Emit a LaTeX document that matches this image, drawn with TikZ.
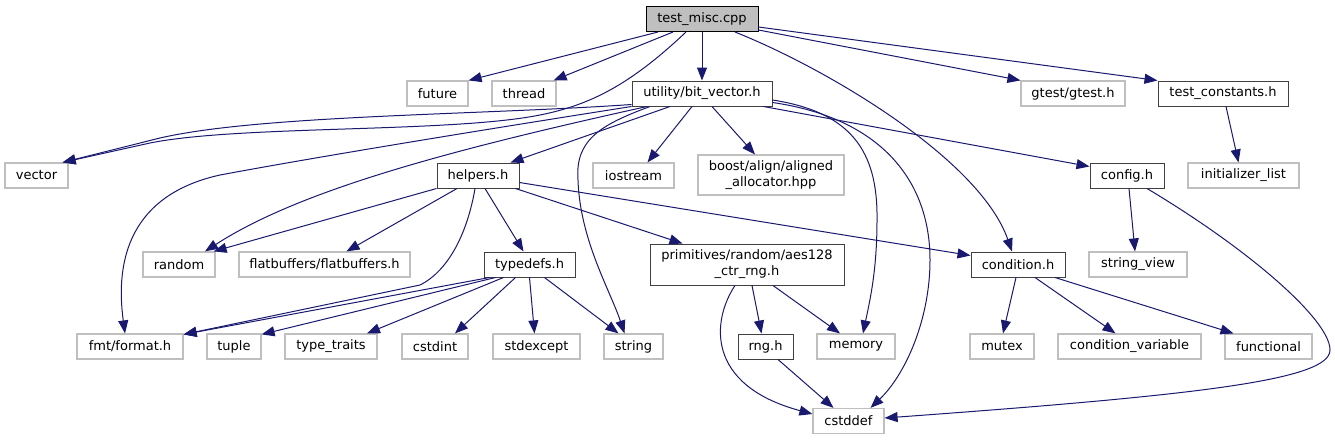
\documentclass[tikz,border=0pt]{standalone}
\usepackage{fontspec}
\setmainfont{DejaVu Sans}
\usepackage{tikz}
\usetikzlibrary{arrows.meta}

\definecolor{edgeblue}{HTML}{191970}
\definecolor{sysgray}{HTML}{BFBFBF}
\definecolor{docgray}{HTML}{404040}

\begin{document}
\begin{tikzpicture}[x=1pt, y=-1pt,
  file/.style={draw=docgray, line width=1pt, inner sep=0pt, minimum height=25pt,
    font=\fontsize{13}{16}\selectfont, align=center},
  sysfile/.style={file, draw=sysgray, line width=1.2pt},
  root/.style={file, draw=black, fill=sysgray},
  dep/.style={draw=edgeblue, line width=1pt, -{Triangle[length=13pt,width=10pt]}}]

\path[use as bounding box, fill=white] (0,0) rectangle (1335,440);

% root file
\node[root, minimum width=112pt] (misc) at (702,19) {test\_misc.cpp};

% first row
\node[sysfile, minimum width=61pt] (future) at (437.5,93.5) {future};
\node[sysfile, minimum width=64pt] (thread) at (524,93.5) {thread};
\node[file, minimum width=140pt] (bitvec) at (702,93.5) {utility/bit\_vector.h};
\node[sysfile, minimum width=104pt] (gtest) at (1073,93.5) {gtest/gtest.h};
\node[file, minimum width=130pt] (tconst) at (1223,93.5) {test\_constants.h};

% second row
\node[sysfile, minimum width=63pt] (vector) at (36.5,175.5) {vector};
\node[file, minimum width=82pt] (helpers) at (478,175.5) {helpers.h};
\node[sysfile, minimum width=81pt] (iostream) at (633.5,175.5) {iostream};
\node[sysfile, minimum width=146pt, minimum height=40pt] (boost) at (771,175) {boost/align/aligned\\\_allocator.hpp};
\node[file, minimum width=74pt] (config) at (1127,175.5) {config.h};
\node[sysfile, minimum width=111pt] (initlist) at (1243.5,175.5) {initializer\_list};

% third row
\node[sysfile, minimum width=72pt] (random) at (179,264.5) {random};
\node[sysfile, minimum width=171pt] (flatbuf) at (324.5,264.5) {flatbuffers/flatbuffers.h};
\node[file, minimum width=91pt] (typedefs) at (529.5,264.5) {typedefs.h};
\node[file, minimum width=194pt, minimum height=41pt] (aes) at (747,264.5) {primitives/random/aes128\\\_ctr\_rng.h};
\node[file, minimum width=94pt] (condition) at (1018,264.5) {condition.h};
\node[sysfile, minimum width=98pt] (strview) at (1138,264.5) {string\_view};

% fourth row
\node[sysfile, minimum width=106pt] (fmt) at (130,346.5) {fmt/format.h};
\node[sysfile, minimum width=54pt] (tuple) at (234,346.5) {tuple};
\node[sysfile, minimum width=92pt] (ttraits) at (331,346.5) {type\_traits};
\node[sysfile, minimum width=66pt] (cstdint) at (435,346.5) {cstdint};
\node[sysfile, minimum width=87pt] (stdexcept) at (536.5,346.5) {stdexcept};
\node[sysfile, minimum width=59pt] (string) at (633.5,346.5) {string};
\node[file, minimum width=55pt] (rng) at (765.5,346.5) {rng.h};
\node[sysfile, minimum width=78pt] (memory) at (856,346.5) {memory};
\node[sysfile, minimum width=64pt] (mutex) at (1002,346.5) {mutex};
\node[sysfile, minimum width=143pt] (condvar) at (1129.5,346.5) {condition\_variable};
\node[sysfile, minimum width=87pt] (functional) at (1268.5,346.5) {functional};

% bottom
\node[sysfile, minimum width=71pt] (cstddef) at (848.5,421) {cstddef};

% includes of test_misc.cpp
\draw[dep] ([xshift=-44pt]misc.south) -- (future.north east);
\draw[dep] ([xshift=-29pt]misc.south) -- ([xshift=-3pt]thread.north east);
\draw[dep] (misc) -- (bitvec);
\draw[dep] ([xshift=-16pt]misc.south) .. controls (630,85) and (590,105) .. (540,115)
  .. controls (450,133) and (240,125) .. (150,143) -- ([xshift=-6pt]vector.north east);
\draw[dep] ([xshift=33pt]misc.south) .. controls (830,70) and (980,160) .. ([xshift=-6pt]condition.north);
\draw[dep] ([yshift=-11pt]misc.east) -- (gtest.north west);
\draw[dep] ([yshift=-8pt]misc.east) -- (tconst.north west);

% includes of utility/bit_vector.h
\draw[dep] ([yshift=-11pt]bitvec.west) .. controls (480,115) and (260,115) .. (160,138) -- ([xshift=-6pt]vector.north east);
\draw[dep] (bitvec.south west) .. controls (450,135) and (300,160) .. (220,175)
  .. controls (130,195) and (115,260) .. ([xshift=-5pt]fmt.north);
\draw[dep] ([xshift=-55pt]bitvec.south) .. controls (450,150) and (300,190) .. ([xshift=26pt]random.north);
\draw[dep] ([xshift=-32pt]bitvec.south) -- ([xshift=-9pt]helpers.north east);
\draw[dep] ([xshift=-52pt]bitvec.south) .. controls (600,125) and (575,140) .. (578,180)
  .. controls (580,240) and (610,290) .. ([xshift=-9pt]string.north);
\draw[dep] ([xshift=-10pt]bitvec.south) -- ([xshift=14pt]iostream.north);
\draw[dep] ([xshift=10pt]bitvec.south) -- ([xshift=-16pt]boost.north);
\draw[dep] ([yshift=-6.5pt]bitvec.east) .. controls (850,112) and (878,150) .. (877,220)
  .. controls (877,270) and (870,300) .. ([xshift=7pt]memory.north);
\draw[dep] ([yshift=-9pt]bitvec.east) .. controls (880,118) and (930,180) .. (930,260)
  .. controls (930,320) and (905,375) .. ([xshift=22pt]cstddef.north);
\draw[dep] ([xshift=-9pt]bitvec.south east) -- ([yshift=-4pt]config.north west);

% test_constants.h and config.h
\draw[dep] ([xshift=3pt]tconst.south) -- ([xshift=-5pt]initlist.north);
\draw[dep] ([xshift=2pt]config.south) -- ([xshift=-3pt]strview.north);
\draw[dep] ([xshift=20pt]config.south) .. controls (1250,250) and (1330,320) .. (1330,350)
  .. controls (1330,380) and (1200,395) .. ([yshift=3pt]cstddef.east);

% includes of helpers.h
\draw[dep] (helpers.south west) -- ([xshift=-2pt]random.north east);
\draw[dep] ([xshift=-21pt]helpers.south) -- ([xshift=22pt]flatbuf.north);
\draw[dep] ([xshift=-3pt]helpers.south) .. controls (468,230) and (450,270) .. (420,285) -- ([yshift=-1pt]fmt.north east);
\draw[dep] ([xshift=7pt]helpers.south) -- ([xshift=-6pt]typedefs.north);
\draw[dep] ([xshift=-4pt]helpers.south east) -- ([xshift=33pt]aes.north west);
\draw[dep] ([yshift=-7pt]helpers.east) -- ([yshift=9pt]condition.west);

% includes of typedefs.h
\draw[dep] ([xshift=-40pt]typedefs.south) -- ([yshift=-1pt]fmt.north east);
\draw[dep] ([xshift=-34pt]typedefs.south) -- ([yshift=-1pt]tuple.north east);
\draw[dep] ([xshift=-26pt]typedefs.south) -- ([xshift=36pt]ttraits.north);
\draw[dep] ([xshift=-14pt]typedefs.south) -- ([xshift=20pt]cstdint.north);
\draw[dep] (typedefs.south) -- ([xshift=-2pt]stdexcept.north);
\draw[dep] ([xshift=15pt]typedefs.south) -- ([xshift=-15pt]string.north);

% aes128 and rng
\draw[dep] ([xshift=5pt]aes.south) -- ([xshift=-4pt]rng.north);
\draw[dep] ([xshift=26pt]aes.south) -- ([xshift=-16pt]memory.north);
\draw[dep] ([xshift=-12pt]aes.south) .. controls (712,320) and (705,385) .. ([yshift=7pt]cstddef.west);
\draw[dep] ([xshift=12.5pt]rng.south) -- ([xshift=-15pt]cstddef.north);

% includes of condition.h
\draw[dep] ([xshift=-2pt]condition.south) -- ([xshift=1pt]mutex.north);
\draw[dep] ([xshift=17pt]condition.south) -- ([xshift=-14pt]condvar.north);
\draw[dep] ([xshift=37pt]condition.south) -- ([xshift=-35pt]functional.north);

\end{tikzpicture}
\end{document}
